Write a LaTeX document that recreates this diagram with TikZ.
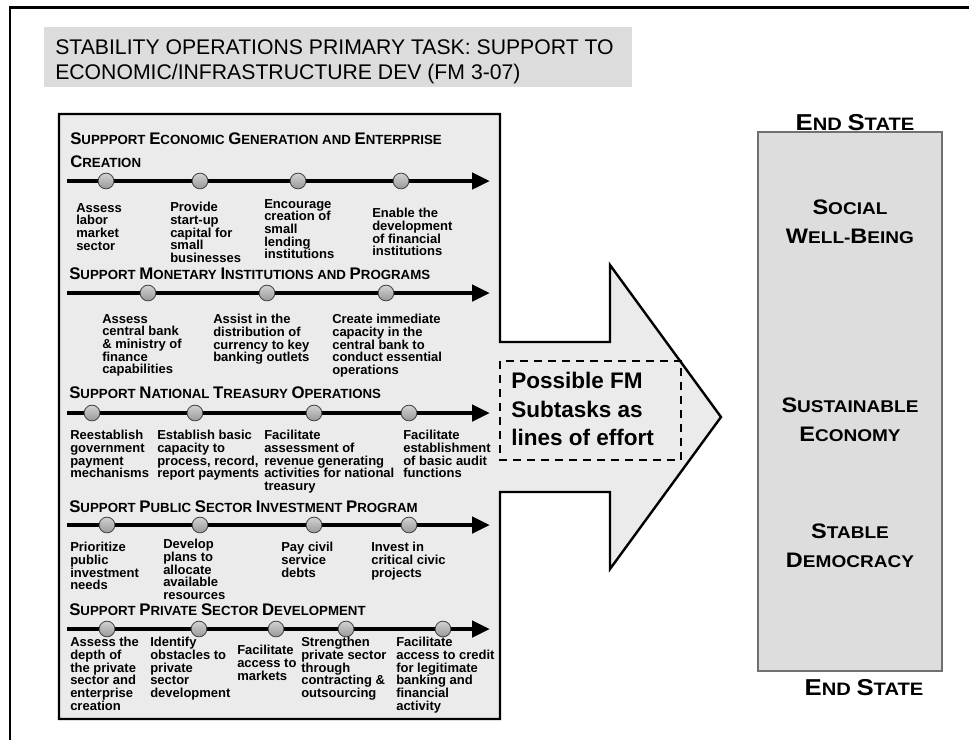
\documentclass[tikz,border=0pt]{standalone}
\usepackage{fontspec}
\setmainfont{Liberation Sans}
\newfontfamily\capfont[FakeStretch=1.12]{Liberation Sans}
\usetikzlibrary{arrows.meta}
\definecolor{panelfill}{HTML}{EBEBEB}
\definecolor{titlefill}{HTML}{DCDCDC}
\definecolor{boxfill}{HTML}{DDDDDD}
\definecolor{boxline}{HTML}{707070}
\newcommand\Hb[1]{{\fontsize{12.6}{14}\selectfont #1}}
\newcommand\Hs[1]{{\fontsize{9.95}{12}\selectfont #1}}
\newcommand\Eb[1]{{\fontsize{17.25}{20}\selectfont #1}}
\newcommand\Es[1]{{\fontsize{13.5}{16}\selectfont #1}}
\newcommand\Bb[1]{{\fontsize{15.75}{21.4}\selectfont #1}}
\newcommand\Bs[1]{{\fontsize{12.75}{21.4}\selectfont #1}}
\tikzset{
  effort/.style={line width=3.4pt,-{Triangle[length=13.5pt,width=12pt]}},
  dot/.style={circle,minimum size=11.8pt,inner sep=0pt,draw=black!75,line width=0.6pt,top color=gray!35,bottom color=gray!80},
  lbl/.style={anchor=north west,inner sep=0pt,align=left,font=\bfseries\fontsize{9.75}{9.5}\selectfont},
  hdr/.style={anchor=base west,inner sep=0pt,font=\bfseries\fontsize{9.95}{12}\selectfont},
  endst/.style={anchor=base,inner sep=0pt,font=\capfont\bfseries\fontsize{13.5}{16}\selectfont},
  goal/.style={anchor=north,inner sep=0pt,align=center,font=\capfont\bfseries\fontsize{12.75}{21.4}\selectfont}
}
\begin{document}
\begin{tikzpicture}[x=0.75pt,y=-0.75pt]
\useasboundingbox (0,0) rectangle (969,740);
% outer frame
\draw[line width=1.8pt] (10,740) -- (10,7.5) -- (969,7.5);
% title
\fill[titlefill] (44,27) rectangle (632,87);
\node[anchor=north west,inner sep=0pt,align=left,font=\fontsize{15.9}{18.75}\selectfont] (title) at (55,39)
  {STABILITY OPERATIONS PRIMARY TASK: SUPPORT TO\\ECONOMIC/INFRASTRUCTURE DEV (FM 3-07)};
% panel with big arrow
\draw[fill=panelfill,line width=1.8pt,line join=miter]
  (59,114) -- (500,114) -- (500,342) -- (610,342) -- (610,265) -- (721,417)
  -- (610,569) -- (610,492) -- (500,492) -- (500,719) -- (59,719) -- cycle;
% dashed box
\draw[dashed,dash pattern=on 6pt off 4.5pt,line width=1.5pt] (500,361) rectangle (681,460);
\node[anchor=north west,inner sep=0pt,align=left,font=\bfseries\fontsize{16.9}{21.4}\selectfont] (fm) at (511,372)
  {Possible FM\\Subtasks as\\lines of effort};
% right box
\draw[fill=boxfill,draw=boxline,line width=1.1pt] (758,132) rectangle (942,671);
\node[endst] (es1) at (855,130) {\Eb{E}\Es{ND} \Eb{S}\Es{TATE}};
\node[endst] (es2) at (864,695) {\Eb{E}\Es{ND} \Eb{S}\Es{TATE}};
\node[goal] (g1) at (850,200) {\Bb{S}\Bs{OCIAL}\\\Bb{W}\Bs{ELL}-\Bb{B}\Bs{EING}};
\node[goal] (g2) at (850,398) {\Bb{S}\Bs{USTAINABLE}\\\Bb{E}\Bs{CONOMY}};
\node[goal] (g3) at (850,524) {\Bb{S}\Bs{TABLE}\\\Bb{D}\Bs{EMOCRACY}};
% section 1
\node[hdr] (h1a) at (70,144) {\Hb{S}\Hs{UPPPORT} \Hb{E}\Hs{CONOMIC} \Hb{G}\Hs{ENERATION AND} \Hb{E}\Hs{NTERPRISE}};
\node[hdr] (h1b) at (70,167) {\Hb{C}\Hs{REATION}};
\coordinate (s1) at (67,181); \coordinate (e1) at (490,181);
\draw[effort] (s1) -- (e1);
\foreach \x [count=\i] in {106,200,298,401} \node[dot] (d1\i) at (\x,181) {};
\node[lbl] (l11) at (76,203) {Assess\\labor\\market\\sector};
\node[lbl] (l12) at (170,202) {Provide\\start-up\\capital for\\small\\businesses};
\node[lbl] (l13) at (264,199) {Encourage\\creation of\\small\\lending\\institutions};
\node[lbl] (l14) at (372,208) {Enable the\\development\\of financial\\institutions};
% section 2
\node[hdr] (h2) at (69,279) {\Hb{S}\Hs{UPPORT} \Hb{M}\Hs{ONETARY} \Hb{I}\Hs{NSTITUTIONS AND} \Hb{P}\Hs{ROGRAMS}};
\coordinate (s2) at (67,293); \coordinate (e2) at (490,293);
\draw[effort] (s2) -- (e2);
\foreach \x [count=\i] in {148,267,386} \node[dot] (d2\i) at (\x,293) {};
\node[lbl] (l21) at (102,314) {Assess\\central bank\\\& ministry of\\finance\\capabilities};
\node[lbl] (l22) at (213,314) {Assist in the\\distribution of\\currency to key\\banking outlets};
\node[lbl] (l23) at (332,314) {Create immediate\\capacity in the\\central bank to\\conduct essential\\operations};
% section 3
\node[hdr] (h3) at (69,398) {\Hb{S}\Hs{UPPORT} \Hb{N}\Hs{ATIONAL} \Hb{T}\Hs{REASURY} \Hb{O}\Hs{PERATIONS}};
\coordinate (s3) at (67,413); \coordinate (e3) at (490,413);
\draw[effort] (s3) -- (e3);
\foreach \x [count=\i] in {92,195,314,409} \node[dot] (d3\i) at (\x,413) {};
\node[lbl] (l31) at (70,430) {Reestablish\\government\\payment\\mechanisms};
\node[lbl] (l32) at (157,430) {Establish basic\\capacity to\\process, record,\\report payments};
\node[lbl] (l33) at (264,430) {Facilitate\\assessment of\\revenue generating\\activities for national\\treasury};
\node[lbl] (l34) at (403,430) {Facilitate\\establishment\\of basic audit\\functions};
% section 4
\node[hdr] (h4) at (69,512) {\Hb{S}\Hs{UPPORT} \Hb{P}\Hs{UBLIC} \Hb{S}\Hs{ECTOR} \Hb{I}\Hs{NVESTMENT} \Hb{P}\Hs{ROGRAM}};
\coordinate (s4) at (67,525); \coordinate (e4) at (490,525);
\draw[effort] (s4) -- (e4);
\foreach \x [count=\i] in {107,200,314,409} \node[dot] (d4\i) at (\x,525) {};
\node[lbl] (l41) at (70,542) {Prioritize\\public\\investment\\needs};
\node[lbl] (l42) at (163,539) {Develop\\plans to\\allocate\\available\\resources};
\node[lbl] (l43) at (281,542) {Pay civil\\service\\debts};
\node[lbl] (l44) at (371,542) {Invest in\\critical civic\\projects};
% section 5
\node[hdr] (h5) at (69,615) {\Hb{S}\Hs{UPPORT} \Hb{P}\Hs{RIVATE} \Hb{S}\Hs{ECTOR} \Hb{D}\Hs{EVELOPMENT}};
\coordinate (s5) at (67,629); \coordinate (e5) at (490,629);
\draw[effort] (s5) -- (e5);
\foreach \x [count=\i] in {107,199,276,346,443} \node[dot] (d5\i) at (\x,629) {};
\node[lbl] (l51) at (70,637) {Assess the\\depth of\\the private\\sector and\\enterprise\\creation};
\node[lbl] (l52) at (150,637) {Identify\\obstacles to\\private\\sector\\development};
\node[lbl] (l53) at (237,645) {Facilitate\\access to\\markets};
\node[lbl] (l54) at (301,637) {Strengthen\\private sector\\through\\contracting \&\\outsourcing};
\node[lbl] (l55) at (396,637) {Facilitate\\access to credit\\for legitimate\\banking and\\financial\\activity};
\end{tikzpicture}
\end{document}
